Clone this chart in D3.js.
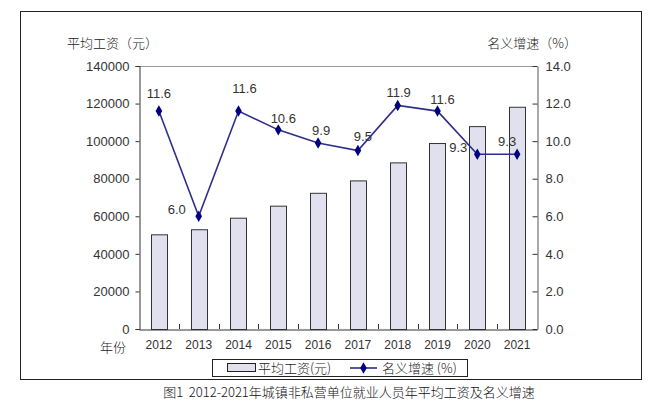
<!DOCTYPE html>
<html><head><meta charset="utf-8">
<script src="https://cdn.jsdelivr.net/npm/d3@7/dist/d3.min.js"></script>
<style>body{margin:0;background:#fff}svg{display:block}</style>
</head><body><svg id="c" width="661" height="405"></svg>
<script>
const years = ["2012","2013","2014","2015","2016","2017","2018","2019","2020","2021"];
const wages = [50400, 53100, 59250, 65650, 72500, 79100, 88700, 99000, 108000, 118300];
const growth = [11.6, 6.0, 11.6, 10.6, 9.9, 9.5, 11.9, 11.6, 9.3, 9.3];
const leftTicks = [0, 20000, 40000, 60000, 80000, 100000, 120000, 140000];
const rightTicks = [0, 2, 4, 6, 8, 10, 12, 14];
// label placement (dx, dy) relative to points
const labelPlace = [[0,-17],[-22,-6],[6,-22],[5,-10],[3,-11],[5,-13],[1,-12],[5,-11],[-19,-6],[-10,-12]];

const svg = d3.select("#c");
const font = "'Liberation Sans', Arial, sans-serif";
const cjk = "'Noto Sans CJK SC', sans-serif";
const cjkW = 300;
const M = {l:139, r:537, t:66, b:329};

svg.append("rect").attr("x",20.5).attr("y",11.5).attr("width",621).attr("height",368)
  .attr("fill","none").attr("stroke","#222").attr("stroke-width",1);

const x = d3.scaleBand().domain(years).range([M.l, M.r]);
const yL = d3.scaleLinear().domain([0,140000]).range([M.b, M.t]);
const yR = d3.scaleLinear().domain([0,14]).range([M.b, M.t]);

// plot top border
svg.append("line").attr("x1",M.l).attr("x2",M.r).attr("y1",M.t+0.5).attr("y2",M.t+0.5).attr("stroke","#999");

// bars
const bw = x.bandwidth()*0.41;
svg.append("g").selectAll("rect").data(years).join("rect")
  .attr("x",(d)=>Math.round(x(d)+x.bandwidth()/2-bw/2)+0.5)
  .attr("y",(d,i)=>yL(wages[i])+0.5)
  .attr("width",Math.round(bw))
  .attr("height",(d,i)=>M.b-yL(wages[i]))
  .attr("fill","#e1e0ee").attr("stroke","#333").attr("stroke-width",1);

// left axis
const gl = svg.append("g").attr("transform",`translate(${M.l+0.5},0)`)
  .call(d3.axisLeft(yL).tickValues(leftTicks).tickSize(4).tickPadding(6).tickFormat(d3.format("d")));
gl.select(".domain").attr("stroke","#333");
gl.selectAll(".tick line").attr("stroke","#333");
gl.selectAll("text").attr("font-family",font).attr("font-size",13).attr("fill","#333");

// right axis (ticks inside)
const gr = svg.append("g").attr("transform",`translate(${M.r+0.5},0)`)
  .call(d3.axisRight(yR).tickValues(rightTicks).tickSizeInner(-5).tickSizeOuter(0).tickPadding(8).tickFormat(d3.format(".1f")));
gr.select(".domain").attr("stroke","#555");
gr.selectAll(".tick line").attr("stroke","#333");
gr.selectAll("text").attr("font-family",font).attr("font-size",13).attr("fill","#333");

// bottom axis
const gb = svg.append("g").attr("transform",`translate(0,${M.b+0.5})`)
  .call(d3.axisBottom(x).tickSize(0).tickPadding(11));
gb.select(".domain").attr("stroke","#333");
gb.selectAll("text").attr("font-family",font).attr("font-size",12).attr("fill","#333");
// tick marks between categories, pointing up
const bounds = years.slice(1).map(d=>x(d));
svg.append("g").selectAll("line").data(bounds).join("line")
  .attr("x1",d=>Math.round(d)+0.5).attr("x2",d=>Math.round(d)+0.5)
  .attr("y1",M.b-5).attr("y2",M.b).attr("stroke","#333");

// line
const cx = d=>x(d)+x.bandwidth()/2;
const line = d3.line().x((d,i)=>cx(years[i])).y(d=>yR(d));
svg.append("path").datum(growth).attr("d",line).attr("fill","none")
  .attr("stroke","#2e2e8a").attr("stroke-width",1.6);
const diamond = d3.symbol().type(d3.symbolDiamond).size(38);
svg.append("g").selectAll("path").data(growth).join("path")
  .attr("d",diamond)
  .attr("transform",(d,i)=>`translate(${cx(years[i])},${yR(d)})`)
  .attr("fill","#000080");

svg.append("g").selectAll("text").data(growth).join("text")
  .attr("x",(d,i)=>cx(years[i])+labelPlace[i][0])
  .attr("y",(d,i)=>yR(d)+labelPlace[i][1])
  .attr("text-anchor","middle").attr("dominant-baseline","middle")
  .attr("font-family",font).attr("font-size",13).attr("fill","#333")
  .text(d=>d3.format(".1f")(d));

// axis titles
svg.append("text").attr("x",67).attr("y",48).attr("font-family",cjk).attr("font-weight",cjkW).attr("font-size",13).attr("fill","#222").text("平均工资（元）");
svg.append("text").attr("x",577).attr("y",48).attr("text-anchor","end").attr("font-family",cjk).attr("font-weight",cjkW).attr("font-size",13).attr("fill","#222").text("名义增速（%）");
svg.append("text").attr("x",100).attr("y",352).attr("font-family",cjk).attr("font-weight",cjkW).attr("font-size",13).attr("fill","#222").text("年份");

// legend
const lg = svg.append("g");
lg.append("rect").attr("x",212.5).attr("y",359.5).attr("width",255).attr("height",17).attr("fill","#fff").attr("stroke","#222");
lg.append("rect").attr("x",227.5).attr("y",363.5).attr("width",28).attr("height",8).attr("fill","#e1e0ee").attr("stroke","#222");
lg.append("text").attr("x",258).attr("y",373).attr("font-family",cjk).attr("font-weight",cjkW).attr("font-size",13).attr("fill","#222").text("平均工资(元)");
lg.append("line").attr("x1",350).attr("x2",377).attr("y1",368).attr("y2",368).attr("stroke","#2e2e8a").attr("stroke-width",1.6);
lg.append("path").attr("d",diamond).attr("transform","translate(363.5,368)").attr("fill","#000080");
lg.append("text").attr("x",382).attr("y",373).attr("font-family",cjk).attr("font-weight",cjkW).attr("font-size",13).attr("fill","#222").text("名义增速 (%)");

// caption
svg.append("text").attr("x",349).attr("y",397).attr("text-anchor","middle").attr("font-family",cjk).attr("font-weight",cjkW).attr("font-size",13).attr("fill","#111")
  .text("图1\u00a0\u00a02012-2021年城镇非私营单位就业人员年平均工资及名义增速");
</script></body></html>
